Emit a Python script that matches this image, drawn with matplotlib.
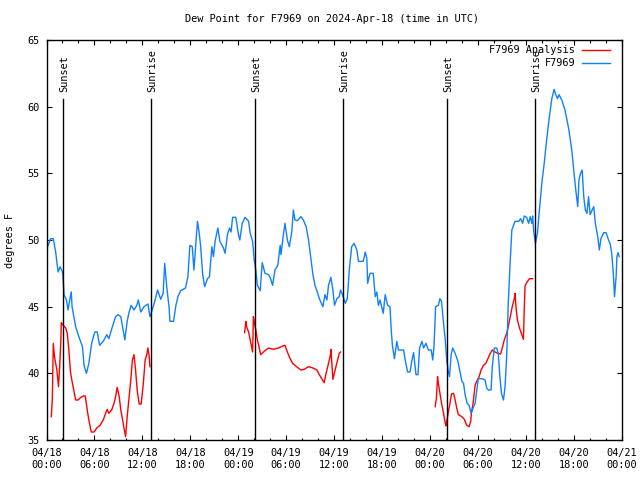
import numpy as np
import matplotlib
matplotlib.use("Agg")
import matplotlib.pyplot as plt

# hours since 04/18 00:00 UTC
blue_h = [0.0, 0.5, 0.85, 1.15, 1.45, 1.7, 2.0, 2.1, 2.2, 2.5, 2.7, 2.95, 3.1, 3.2, 3.65,
          4.05, 4.5, 4.7, 5.0, 5.3, 5.65, 6.05, 6.35, 6.65, 7.1, 7.55, 7.8, 8.25, 8.65, 8.95,
          9.3, 9.55, 9.8, 10.1, 10.3, 10.6, 10.95, 11.3, 11.5, 11.8, 12.2, 12.7, 12.95, 13.1,
          13.55, 13.9, 14.3, 14.6, 14.8, 15.05, 15.35, 15.45, 15.9, 16.2, 16.45, 16.8, 17.4,
          17.7, 17.95, 18.25, 18.45, 18.7, 18.9, 19.1, 19.3, 19.55, 19.8, 20.15, 20.4, 20.7,
          20.9, 21.1, 21.45, 21.7, 22.15, 22.35, 22.65, 22.9, 23.1, 23.3, 23.7, 24.0, 24.2,
          24.5, 24.85, 25.3, 25.5, 25.8, 26.0, 26.2, 26.4, 26.75, 27.0, 27.35, 27.8, 28.05,
          28.3, 28.6, 28.95, 29.25, 29.35, 29.65, 29.85, 30.15, 30.4, 30.7, 30.9, 31.1, 31.4,
          31.85, 32.15, 32.5, 32.8, 33.1, 33.35, 33.6, 33.9, 34.15, 34.6, 34.85, 35.1, 35.3,
          35.6, 35.85, 36.05, 36.35, 36.65, 36.8, 37.05, 37.4, 37.65, 37.9, 38.2, 38.5, 38.85,
          39.05, 39.65, 39.9, 40.1, 40.2, 40.5, 40.9, 41.15, 41.35, 41.55, 41.75, 42.15, 42.4,
          42.7, 43.0, 43.15, 43.3, 43.55, 43.85, 44.05, 44.7, 44.9, 45.2, 45.5, 45.75, 45.95,
          46.25, 46.5, 46.7, 47.0, 47.2, 47.5, 47.8, 48.15, 48.35, 48.5, 48.65, 48.7, 49.05,
          49.25, 49.45, 49.7, 49.9, 50.1, 50.3, 50.45, 50.65, 50.85, 51.15, 51.5, 51.8, 52.0,
          52.2, 52.4, 52.65, 52.9, 53.15, 53.3, 53.65, 54.05, 54.5, 54.9, 55.1, 55.3, 55.65,
          55.8, 56.05, 56.35, 56.55, 56.75, 56.95, 57.2, 57.4, 57.6, 57.8, 58.05, 58.25, 58.65,
          59.1, 59.35, 59.6, 59.8, 60.1, 60.35, 60.55, 60.75, 60.85, 61.0, 61.2, 61.45, 61.7,
          62.0, 62.3, 62.6, 62.95, 63.25, 63.55, 63.75, 63.95, 64.15, 64.5, 64.9, 65.35, 65.75,
          66.05, 66.3, 66.5, 66.65, 66.85, 67.05, 67.25, 67.45, 67.65, 67.85, 68.05, 68.3, 68.5,
          68.7, 69.0, 69.2, 69.4, 69.75, 70.05, 70.35, 70.55, 70.75, 70.95, 71.1, 71.3, 71.4,
          71.55, 71.7]
blue_v = [49.25, 50.1, 50.1, 49.1, 47.6, 48.0, 47.6, 46.9, 45.9, 45.5, 44.75, 45.65, 46.1, 45.0, 43.5,
          42.75, 42.0, 40.6, 40.0, 40.75, 42.25, 43.1, 43.1, 42.1, 42.4, 42.9, 42.6, 43.5, 44.25, 44.4,
          44.25, 43.4, 42.5, 43.9, 44.5, 45.1, 44.75, 45.1, 45.5, 44.6, 45.0, 45.2, 44.25, 44.5,
          45.4, 46.25, 45.55, 46.0, 48.25, 46.5, 44.9, 43.9, 43.9, 45.1, 45.75, 46.2, 46.4,
          47.25, 49.6, 49.5, 47.75, 49.75, 51.4, 50.6, 49.5, 47.4, 46.5, 47.1, 47.25, 49.5,
          48.75, 49.9, 50.9, 49.9, 49.4, 49.0, 50.4, 50.9, 50.6, 51.7, 51.7, 50.5, 50.0,
          51.25, 51.7, 51.4, 50.5, 49.9, 48.5, 47.75, 46.6, 46.2, 48.3, 47.5, 47.4, 47.1,
          46.6, 47.75, 48.1, 49.6, 48.9, 50.4, 51.25, 50.0, 49.5, 50.6, 52.25, 51.5, 51.45,
          51.75, 51.5, 51.0, 50.0, 48.6, 47.4, 46.6, 46.1, 45.6, 45.0, 45.9, 45.5, 46.6,
          47.2, 46.25, 45.1, 45.6, 45.75, 46.25, 45.9, 45.25, 45.6, 47.75, 49.5, 49.75, 49.25,
          48.4, 48.4, 49.1, 48.6, 46.75, 47.5, 47.5, 45.75, 46.1, 45.1, 45.5, 44.5, 45.9,
          45.1, 45.0, 43.25, 42.1, 41.1, 42.4, 41.75, 41.75, 41.0, 40.1, 40.1, 41.0, 41.55,
          39.9, 39.9, 41.9, 42.4, 41.9, 42.25, 41.75, 41.75, 41.0, 42.0, 44.1, 45.0, 45.1,
          45.6, 45.4, 43.75, 42.6, 41.0, 40.1, 39.75, 41.4, 41.9, 41.5, 40.9, 40.0, 39.4,
          39.25, 38.4, 37.75, 37.6, 37.0, 37.25, 37.75, 39.6, 39.6, 39.5, 38.9, 38.75, 38.75,
          40.5, 41.9, 41.9, 41.5, 39.75, 38.5, 38.0, 39.0, 41.25, 45.25, 48.5, 50.75, 51.4,
          51.4, 51.6, 51.25, 51.8, 51.7, 51.25, 51.75, 51.25, 51.8, 50.6, 49.75, 50.5, 52.25,
          54.25, 55.75, 57.5, 59.25, 60.6, 61.3, 60.9, 60.6, 60.9, 60.5, 59.75, 58.4, 56.75,
          54.9, 53.5, 52.5, 54.5, 55.0, 55.25, 53.25, 52.25, 52.0, 53.25, 51.9, 52.25, 52.5,
          51.25, 50.25, 49.25, 50.1, 50.55, 50.55, 50.0, 49.75, 49.0, 47.5, 45.75, 47.25, 48.75,
          49.05, 48.75]

# analysis series, NaN marks gaps in the data
red_h = [0.6, 0.73, 0.85, 1.0, 1.3, 1.5, 1.65, 1.8, 1.85, 2.1, 2.4, 2.6, 2.8, 3.0, 3.2, 3.45,
         3.65, 3.95, 4.3, 4.6, 4.85, 5.1, 5.3, 5.6, 5.95, 6.3, 6.7, 7.1, 7.4, 7.6, 7.8, 8.15,
         8.45, 8.65, 8.85, 9.1, 9.3, 9.5, 9.7, 9.9, 10.1, 10.35, 10.55, 10.75, 10.95, 11.15,
         11.35, 11.6, 11.85, 12.1, 12.35, 12.55, 12.7, 12.85, 12.95, 18.0,
         24.8, 24.95, 25.05, 25.3, 25.5, 25.7, 25.8, 25.9, 26.0, 26.2, 26.4, 26.6, 26.8, 27.35,
         27.8, 28.4, 29.05, 29.55, 29.85, 30.15, 30.5, 30.8, 31.3, 31.85, 32.25, 32.8, 33.35,
         33.85, 34.15, 34.45, 34.75, 35.0, 35.3, 35.5, 35.6, 35.85, 36.05, 36.35, 36.65, 36.8,
         42.0,
         48.65, 48.8, 48.95, 49.05, 49.25, 49.45, 49.7, 49.9, 50.0, 50.15, 50.3, 50.5, 50.7,
         50.95, 51.15, 51.35, 51.55, 52.0, 52.3, 52.6, 52.9, 53.1, 53.2, 53.4, 53.65, 53.85,
         54.15, 54.4, 54.7, 55.0, 55.25, 55.55, 55.8, 56.15, 56.5, 56.85, 57.05, 57.3, 57.6,
         57.8, 58.05, 58.3, 58.55, 58.65, 58.8, 58.95, 59.2, 59.5, 59.7, 59.8, 59.9, 60.1,
         60.45, 60.85]
red_v = [36.75, 38.1, 42.25, 41.25, 40.25, 39.0, 40.5, 42.5, 43.8, 43.6, 43.4, 43.0, 41.75, 40.1,
         39.4, 38.6, 38.0, 38.0, 38.2, 38.3, 38.3, 37.25, 36.5, 35.6, 35.6, 35.9, 36.1, 36.5,
         37.0, 37.3, 37.0, 37.25, 37.75, 38.25, 38.95, 38.25, 37.25, 36.6, 35.9, 35.25, 36.75,
         38.25, 39.5, 41.0, 41.4, 40.25, 38.75, 37.7, 37.7, 39.1, 41.0, 41.4, 41.9, 41.25, 40.5,
         np.nan,
         43.05, 43.9, 43.5, 43.1, 42.5, 41.9, 41.6, 44.25, 43.9, 43.25, 42.5, 42.0, 41.4, 41.7,
         41.9, 41.8, 41.9, 42.05, 42.1, 41.6, 41.1, 40.75, 40.5, 40.25, 40.3, 40.5, 40.4, 40.25,
         39.9, 39.6, 39.3, 40.0, 40.75, 41.25, 41.8, 39.55, 40.05, 40.8, 41.5, 41.6,
         np.nan,
         37.5, 38.1, 39.75, 39.25, 38.5, 37.75, 37.0, 36.3, 36.05, 36.6, 37.1, 37.75, 38.45,
         38.5, 38.0, 37.4, 36.9, 36.75, 36.55, 36.1, 36.0, 36.4, 37.1, 37.75, 39.1, 39.4,
         39.75, 40.25, 40.6, 40.75, 41.1, 41.5, 41.75, 41.6, 41.5, 41.45, 41.9, 42.5, 43.0,
         43.5, 44.25, 45.0, 45.6, 46.0, 44.75, 44.0, 43.4, 42.9, 42.55, 44.75, 46.55, 46.8,
         47.1, 47.1]

sun_h = [2.07, 13.13, 26.15, 37.17, 50.19, 61.1]
sun_lab = ["Sunset", "Sunrise", "Sunset", "Sunrise", "Sunset", "Sunrise"]

xticks = [0, 6, 12, 18, 24, 30, 36, 42, 48, 54, 60, 66, 72]
xlabels = ["04/18\n00:00", "04/18\n06:00", "04/18\n12:00", "04/18\n18:00",
           "04/19\n00:00", "04/19\n06:00", "04/19\n12:00", "04/19\n18:00",
           "04/20\n00:00", "04/20\n06:00", "04/20\n12:00", "04/20\n18:00",
           "04/21\n00:00"]
yticks = [35, 40, 45, 50, 55, 60, 65]

RED = "#ff0000"
BLUE = "#1080ff"
FONT = "DejaVu Sans Mono"
FS = 7.4

plt.rcParams["font.family"] = FONT
plt.rcParams["font.size"] = FS

fig = plt.figure(figsize=(6.4, 4.8), dpi=100)
ax = fig.add_axes([46.5 / 640, 40 / 480, 575.2 / 640, 400 / 480])

ax.plot(red_h, red_v, color=RED, lw=1.0)
ax.plot(blue_h, blue_v, color=BLUE, lw=1.0)

for h, lab in zip(sun_h, sun_lab):
    ax.plot([h, h], [0, 0.8525], color="black", lw=1.0,
            transform=ax.get_xaxis_transform())
    ax.text(h + 0.15, 0.87, lab, rotation=90, ha="center", va="bottom",
            transform=ax.get_xaxis_transform(), fontsize=FS)

ax.set_xlim(0, 72)
ax.set_ylim(35, 65)
ax.set_xticks(xticks)
ax.set_xticklabels(xlabels, linespacing=1.25)
ax.set_xticks(np.arange(0, 73, 2), minor=True)
ax.set_yticks(yticks)
ax.tick_params(direction="in", top=True, right=True, length=3.6, width=0.8, pad=5)
ax.tick_params(axis="x", which="minor", direction="in", top=True, length=1.8, width=0.8)
ax.tick_params(axis="x", pad=6)
for s in ax.spines.values():
    s.set_linewidth(1.0)

# legend drawn by hand, gnuplot style
for yy, lab, col in [(0.975, "F7969 Analysis", RED), (0.9425, "F7969", BLUE)]:
    ax.text(0.919, yy, lab, ha="right", va="center", transform=ax.transAxes, fontsize=FS)
    ax.plot([0.931, 0.980], [yy, yy], color=col, lw=1.0, transform=ax.transAxes)

fig.text(0.518, 1 - 19 / 480, "Dew Point for F7969 on 2024-Apr-18 (time in UTC)",
         ha="center", va="center", fontsize=FS)
fig.text(10 / 640, 0.5, "degrees F", rotation=90, ha="center", va="center", fontsize=FS)

fig.savefig("out.png", dpi=100)
